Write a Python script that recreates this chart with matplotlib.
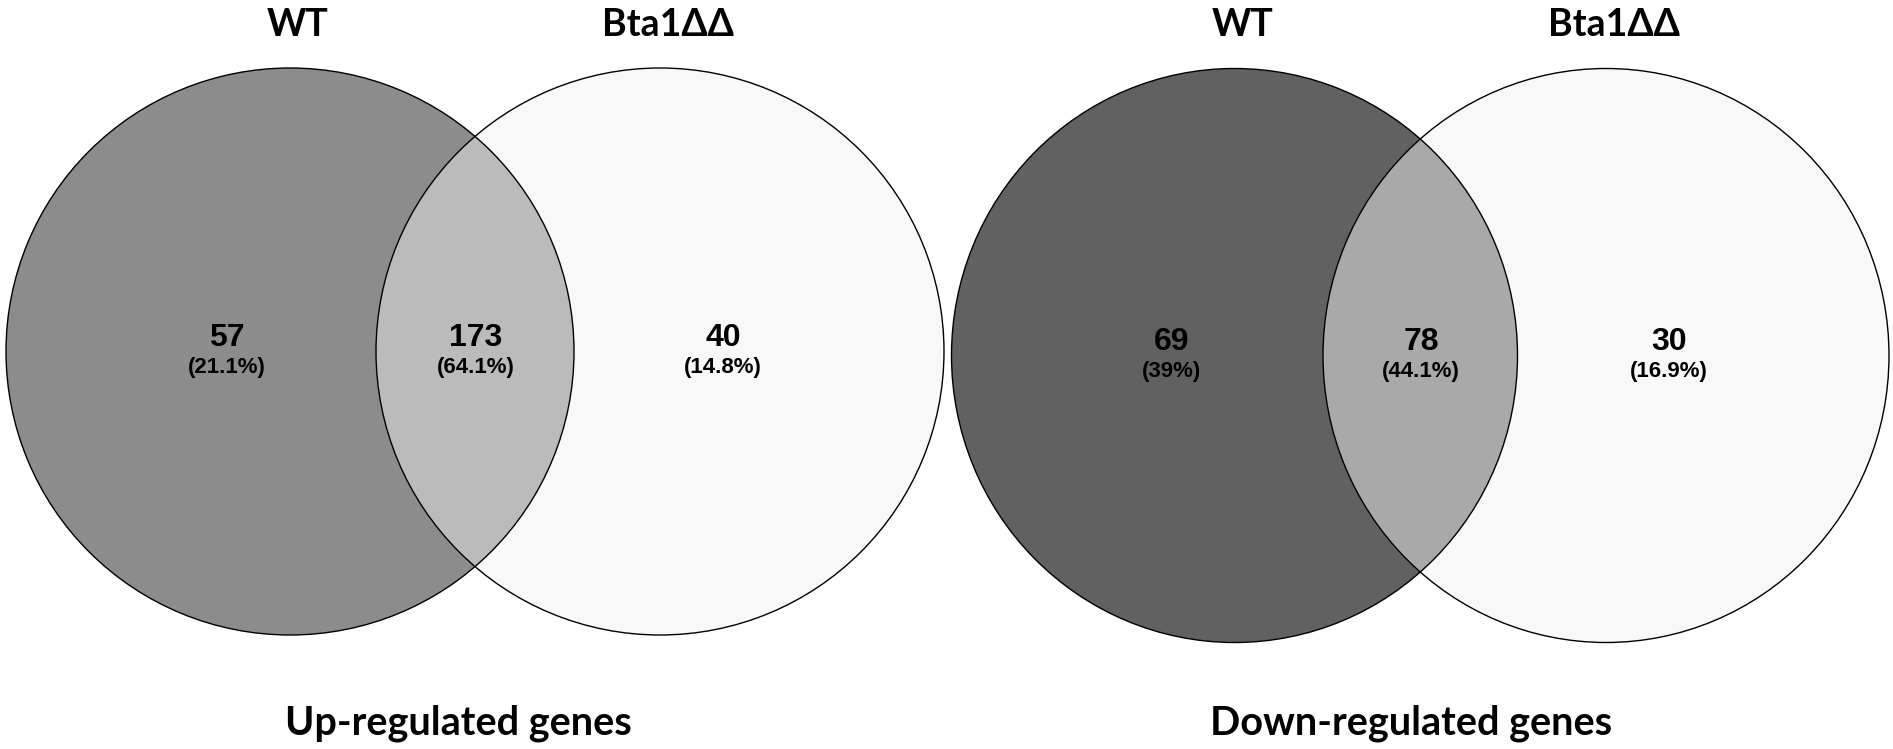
import matplotlib
matplotlib.use("Agg")
import matplotlib.pyplot as plt
from matplotlib.patches import Ellipse

# -------------------------
# Data
# -------------------------

set_names = ["WT", "Bta1ΔΔ"]
panel_titles = ["Up-regulated genes", "Down-regulated genes"]

# counts: [WT only, shared, Bta1ΔΔ only]
up_counts = [57, 173, 40]
up_pcts = ["21.1%", "64.1%", "14.8%"]
down_counts = [69, 78, 30]
down_pcts = ["39%", "44.1%", "16.9%"]

# -------------------------
# Layout (pixel space)
# -------------------------

W, H = 1893, 749
panels = [
    dict(cx=(290, 660), cy=351.5, rx=284, ry=283.5,
         colors=("#8c8c8c", "#bbbbbb", "#f8f8f8"),
         counts=up_counts, pcts=up_pcts, title=panel_titles[0],
         title_x=458),
    dict(cx=(1234.5, 1606), cy=355.5, rx=283, ry=287,
         colors=("#616161", "#a9a9a9", "#f8f8f8"),
         counts=down_counts, pcts=down_pcts, title=panel_titles[1],
         title_x=1411),
]

title_font = ["Lato", "DejaVu Sans"]
num_font = ["Liberation Sans", "DejaVu Sans"]

fig = plt.figure(figsize=(W / 100, H / 100), dpi=100)
ax = fig.add_axes([0, 0, 1, 1])
ax.set_xlim(0, W)
ax.set_ylim(H, 0)
ax.axis("off")

for p in panels:
    (xa, xb), cy = p["cx"], p["cy"]
    w, h = 2 * p["rx"], 2 * p["ry"]
    c_left, c_mid, c_right = p["colors"]

    left = Ellipse((xa, cy), w, h, facecolor=c_left, edgecolor="none")
    right = Ellipse((xb, cy), w, h, facecolor=c_right, edgecolor="none")
    ax.add_patch(left)
    ax.add_patch(right)

    # overlap: left circle clipped to right circle
    mid = Ellipse((xa, cy), w, h, facecolor=c_mid, edgecolor="none")
    ax.add_patch(mid)
    clip = Ellipse((xb, cy), w, h, transform=ax.transData)
    mid.set_clip_path(clip)

    for x in (xa, xb):
        ax.add_patch(Ellipse((x, cy), w, h, facecolor="none",
                             edgecolor="black", linewidth=1.0))

    # set names above circles
    for x, name in zip((xa, xb), set_names):
        ax.text(x + 8, 25, name, ha="center", va="center",
                fontsize=27, fontweight="bold", family=title_font)

    # region labels
    xs = [xa - 63, (xa + xb) / 2 + 1, xb + 63]
    for x, n, pct in zip(xs, p["counts"], p["pcts"]):
        ax.text(x, cy - 13, str(n), ha="center", va="center",
                fontsize=23, fontweight="bold", family=num_font)
        ax.text(x, cy + 16, f"({pct})", ha="center", va="center",
                fontsize=16, fontweight="bold", family=num_font)

    ax.text(p["title_x"], 723, p["title"], ha="center", va="center",
            fontsize=28.5, fontweight="bold", family=title_font)

fig.savefig("out.png", dpi=100)
plt.close(fig)
